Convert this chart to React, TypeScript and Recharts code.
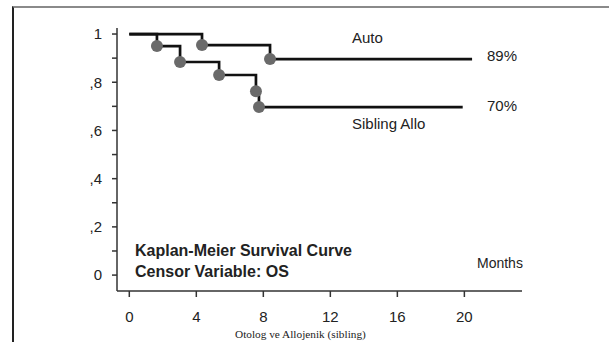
import React from "react";
import { LineChart, Line, XAxis, YAxis } from "recharts";

// Kaplan-Meier steps (months, survival)
const autoTimes = [0, 4.34, 8.4, 20.46];
const autoSurv = [1, 0.954, 0.896, 0.896];
const autoMarks = [false, true, true, false];

const alloTimes = [0, 1.65, 3.03, 5.36, 7.56, 7.74, 19.9];
const alloSurv = [1, 0.95, 0.884, 0.83, 0.763, 0.697, 0.697];
const alloMarks = [false, true, true, true, true, true, false];

const xTicks = [0, 4, 8, 12, 16, 20];
const yTicks = [0, 0.1, 0.2, 0.3, 0.4, 0.5, 0.6, 0.7, 0.8, 0.9, 1];
const yTickLabels = ["0", "", ",2", "", ",4", "", ",6", "", ",8", "", "1"];

const autoData = autoTimes.map((t, i) => ({ t, s: autoSurv[i], mark: autoMarks[i] }));
const alloData = alloTimes.map((t, i) => ({ t, s: alloSurv[i], mark: alloMarks[i] }));

const FONT = "'Liberation Sans', Arial, sans-serif";

const Dot = (props: any) => {
  const { cx, cy, payload, index } = props;
  if (!payload || !payload.mark) return <g key={"n" + index} />;
  return <circle key={"d" + index} cx={cx} cy={cy} r={6} fill="#6a6a6a" stroke="none" />;
};

const txt = (style: React.CSSProperties): React.CSSProperties => ({
  position: "absolute",
  fontFamily: FONT,
  color: "#222",
  whiteSpace: "nowrap",
  lineHeight: 1,
  ...style,
});

export default function App() {
  return (
    <div style={{ position: "absolute", left: 0, top: 0, width: 609, height: 342, background: "#fff", overflow: "hidden" }}>
      <div
        style={{
          position: "absolute",
          left: 12,
          top: 6,
          width: 620,
          height: 334,
          borderTop: "2px solid #8a8a8a",
          borderLeft: "2px solid #222",
        }}
      />
      <LineChart width={609} height={342} margin={{ top: 28, right: 87, bottom: 21, left: 77 }}>
        <XAxis
          type="number"
          dataKey="t"
          domain={[-0.734, 23.44]}
          ticks={xTicks}
          height={30}
          tickSize={6}
          tickMargin={14}
          allowDataOverflow
          axisLine={{ stroke: "#333", strokeWidth: 1.5 }}
          tickLine={{ stroke: "#333", strokeWidth: 1.5 }}
          tick={{ fill: "#222", fontSize: 15, fontFamily: FONT }}
        />
        <YAxis
          type="number"
          dataKey="s"
          domain={[-0.066, 1.025]}
          ticks={yTicks}
          width={40}
          tickSize={5}
          tickMargin={10}
          allowDataOverflow
          interval={0}
          tickFormatter={(v: number) => yTickLabels[Math.round(v * 10)]}
          axisLine={{ stroke: "#333", strokeWidth: 1.5 }}
          tickLine={{ stroke: "#333", strokeWidth: 1.5 }}
          tick={{ fill: "#222", fontSize: 15, fontFamily: FONT }}
        />
        <Line
          data={autoData}
          dataKey="s"
          type="stepAfter"
          stroke="#111"
          strokeWidth={2.7}
          dot={Dot}
          activeDot={false}
          isAnimationActive={false}
        />
        <Line
          data={alloData}
          dataKey="s"
          type="stepAfter"
          stroke="#111"
          strokeWidth={2.7}
          dot={Dot}
          activeDot={false}
          isAnimationActive={false}
        />
      </LineChart>
      <div style={txt({ left: 352, top: 30, fontSize: 15 })}>Auto</div>
      <div style={txt({ left: 487, top: 48, fontSize: 15 })}>89%</div>
      <div style={txt({ left: 487, top: 98, fontSize: 15 })}>70%</div>
      <div style={txt({ left: 352, top: 116, fontSize: 15 })}>Sibling Allo</div>
      <div style={txt({ left: 477, top: 256, fontSize: 14 })}>Months</div>
      <div style={txt({ left: 135, top: 243, fontSize: 16, fontWeight: "bold" })}>Kaplan-Meier Survival Curve</div>
      <div style={txt({ left: 135, top: 264, fontSize: 16, fontWeight: "bold" })}>Censor Variable: OS</div>
      <div style={txt({ left: 235, top: 329, fontSize: 11.3, fontFamily: "'Liberation Serif', 'Times New Roman', serif" })}>
        Otolog ve Allojenik (sibling)
      </div>
    </div>
  );
}
